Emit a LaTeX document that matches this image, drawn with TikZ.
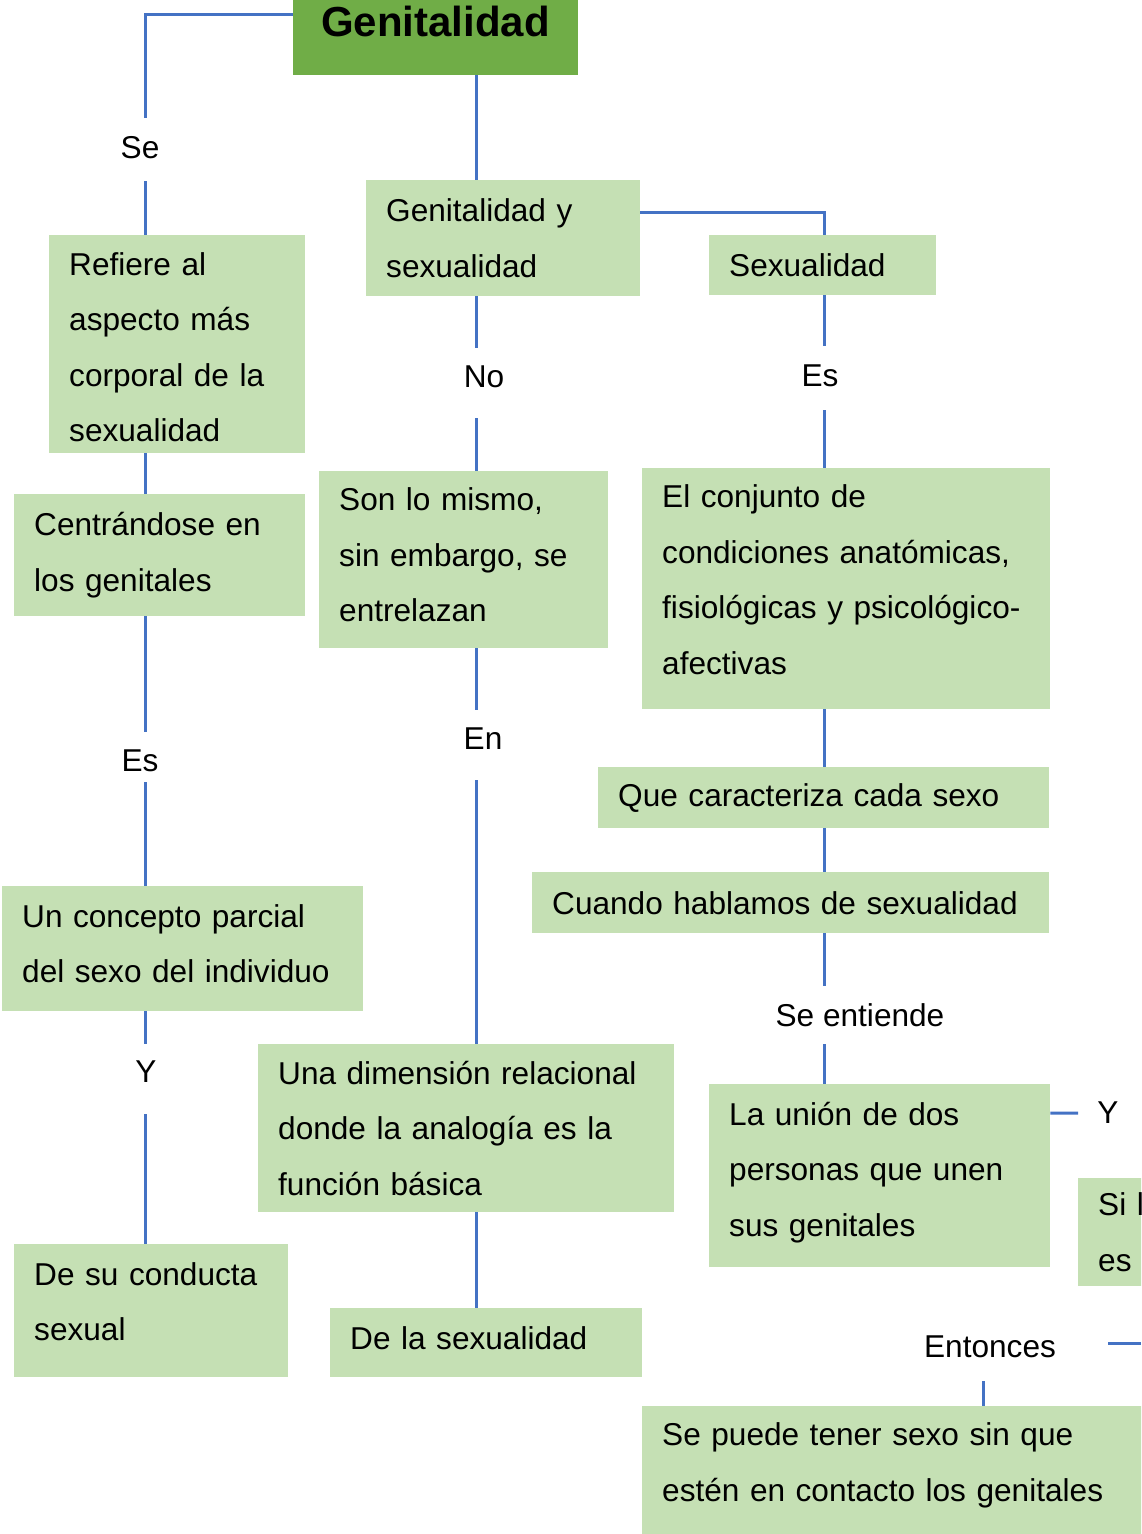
\documentclass[tikz,border=0pt]{standalone}
\usepackage{fontspec}
\setmainfont{Liberation Sans}
\usetikzlibrary{backgrounds}
\definecolor{dkg}{HTML}{70AD47}
\definecolor{ltg}{HTML}{C5E0B4}
\definecolor{cblue}{HTML}{4472C4}
\tikzset{
  box/.style={fill=ltg, draw=none, inner xsep=20pt, inner ysep=0pt, anchor=north west,
    align=left, font=\fontsize{31.6}{55.5}\selectfont},
  lbl/.style={inner sep=0pt, font=\fontsize{31.6}{38}\selectfont},
  conn/.style={draw=cblue, line width=3pt},
}
\begin{document}
\begin{tikzpicture}[x=1pt,y=-1pt]
\useasboundingbox (0,0) rectangle (1141,1534);
\clip (0,0) rectangle (1141,1534);
% column coordinates
\coordinate (cA) at (145,0);
\coordinate (cB) at (476,0);
\coordinate (cC) at (824,0);
% title
\node[fill=dkg, minimum width=285pt, minimum height=107pt, inner sep=0pt,
  font=\bfseries\fontsize{42}{50}\selectfont] (gen) at (435.5,21.5) {Genitalidad};
% boxes
\node[box, text width=234pt, minimum width=274pt, minimum height=116pt] (gys) at (366,180) {Genitalidad y\\sexualidad};
\node[box, text width=187pt, minimum width=227pt, minimum height=60pt] (sex) at (709,235) {Sexualidad};
\node[box, text width=216pt, minimum width=256pt, minimum height=218pt, text depth=160.5pt] (ref) at (49,235) {Refiere al\\aspecto más\\corporal de la\\sexualidad};
\node[box, text width=251pt, minimum width=291pt, minimum height=122pt] (cen) at (14,494) {Centrándose en\\los genitales};
\node[box, text width=249pt, minimum width=289pt, minimum height=177pt, text depth=121pt] (son) at (319,471) {Son lo mismo,\\sin embargo, se\\entrelazan};
\node[box, text width=368pt, minimum width=408pt, minimum height=241pt, text depth=184.5pt] (con) at (642,468) {El conjunto de\\condiciones anatómicas,\\fisiológicas y psicológico-\\afectivas};
\node[box, text width=411pt, minimum width=451pt, minimum height=61pt] (que) at (598,767) {Que caracteriza cada sexo};
\node[box, text width=477pt, minimum width=517pt, minimum height=61pt] (cua) at (532,872) {Cuando hablamos de sexualidad};
\node[box, text width=321pt, minimum width=361pt, minimum height=125pt, text depth=65.5pt] (unc) at (2,886) {Un concepto parcial\\del sexo del individuo};
\node[box, text width=234pt, minimum width=274pt, minimum height=133pt, text depth=73.5pt] (dsc) at (14,1244) {De su conducta\\sexual};
\node[box, text width=376pt, minimum width=416pt, minimum height=168pt] (dim) at (258,1044) {Una dimensión relacional\\donde la analogía es la\\función básica};
\node[box, text width=272pt, minimum width=312pt, minimum height=69pt, text depth=10pt] (dls) at (330,1308) {De la sexualidad};
\node[box, text width=301pt, minimum width=341pt, minimum height=183pt, text depth=124.6pt] (uni) at (709,1084) {La unión de dos\\personas que unen\\sus genitales};
\node[box, text width=110pt, minimum width=150pt, minimum height=108pt] (sil) at (1078,1178) {Si l\\es};
\node[box, text width=490pt, minimum width=530pt, minimum height=135pt, text depth=79pt] (pue) at (642,1406) {Se puede tener sexo sin que\\estén en contacto los genitales};
% labels
\node[lbl] (lSe) at (140,147.5) {Se};
\node[lbl] (lNo) at (484,377) {No};
\node[lbl] (lEsR) at (820,375.5) {Es};
\node[lbl] (lEsL) at (140,761) {Es};
\node[lbl] (lEn) at (483,738.5) {En};
\node[lbl] (lSee) at (860,1015) {Se entiende};
\node[lbl] (lYL) at (146,1072) {Y};
\node[lbl] (lYR) at (1108,1113) {Y};
\node[lbl] (lEnt) at (990,1347) {Entonces};
% gap ends
\coordinate (seT) at (145,118);  \coordinate (seB) at (145,181);
\coordinate (noT) at (476,348);  \coordinate (noB) at (476,418);
\coordinate (esRT) at (824,346); \coordinate (esRB) at (824,410);
\coordinate (esLT) at (145,732); \coordinate (esLB) at (145,782);
\coordinate (enT) at (476,710);  \coordinate (enB) at (476,780);
\coordinate (seeT) at (824,986); \coordinate (seeB) at (824,1044);
\coordinate (yLT) at (145,1044); \coordinate (yLB) at (145,1114);
\coordinate (yRe) at (1078,1113);
\coordinate (entR) at (1108,1343); \coordinate (entRe) at (1141,1343);
\coordinate (entB) at (983,1381);
% connectors
\begin{scope}[on background layer]
\draw[conn] ([yshift=7.5pt]gen.west) -| (seT);
\draw[conn] (seB) -- (ref.north -| cA);
\draw[conn] (gen.south -| cB) -- (gys.north -| cB);
\draw[conn] ([yshift=26pt]gys.east) -| (sex.north -| cC);
\draw[conn] (gys.south -| cB) -- (noT);
\draw[conn] (noB) -- (son.north -| cB);
\draw[conn] (sex.south -| cC) -- (esRT);
\draw[conn] (esRB) -- (con.north -| cC);
\draw[conn] (ref.south -| cA) -- (cen.north -| cA);
\draw[conn] (cen.south -| cA) -- (esLT);
\draw[conn] (esLB) -- (unc.north -| cA);
\draw[conn] (son.south -| cB) -- (enT);
\draw[conn] (enB) -- (dim.north -| cB);
\draw[conn] (con.south -| cC) -- (que.north -| cC);
\draw[conn] (que.south -| cC) -- (cua.north -| cC);
\draw[conn] (cua.south -| cC) -- (seeT);
\draw[conn] (seeB) -- (uni.north -| cC);
\draw[conn] (unc.south -| cA) -- (yLT);
\draw[conn] (yLB) -- (dsc.north -| cA);
\draw[conn] (dim.south -| cB) -- (dls.north -| cB);
\draw[conn] ([yshift=62.5pt]uni.east) -- (yRe);
\draw[conn] (entR) -- (entRe);
\draw[conn] (entB) -- (pue.north -| entB);
\end{scope}
\end{tikzpicture}
\end{document}
